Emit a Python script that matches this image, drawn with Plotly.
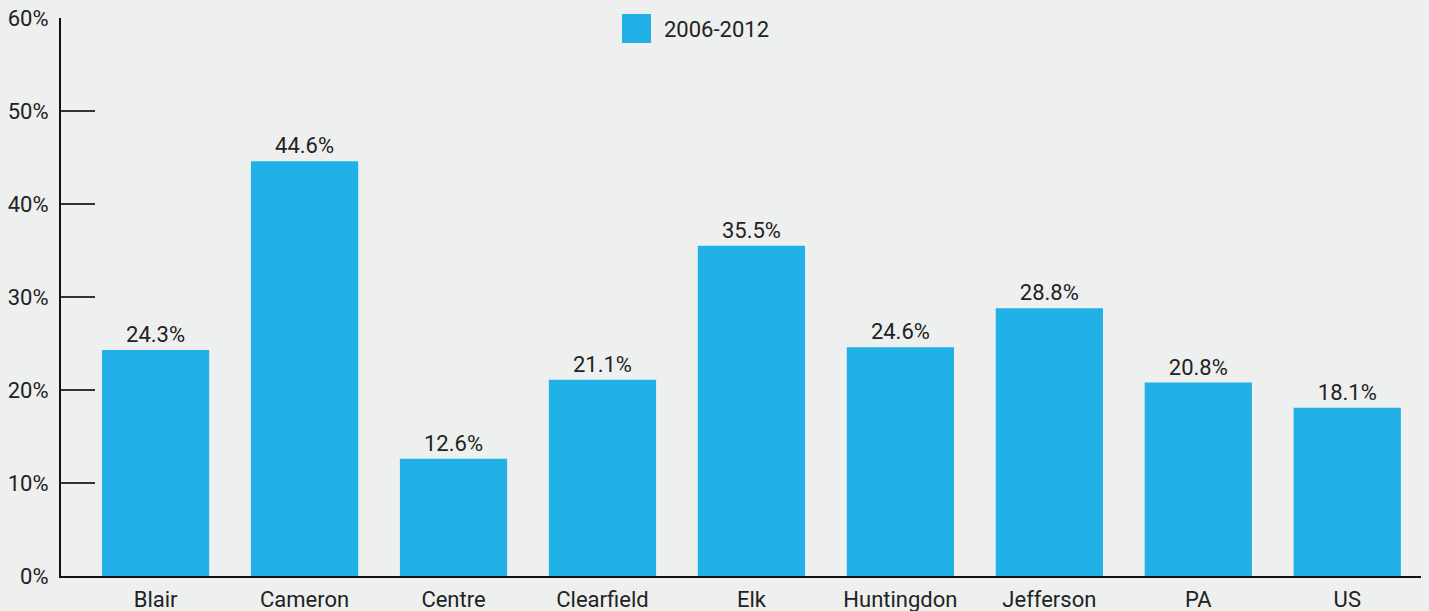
import plotly.graph_objects as go

categories = ["Blair", "Cameron", "Centre", "Clearfield", "Elk", "Huntingdon", "Jefferson", "PA", "US"]
values = [24.3, 44.6, 12.6, 21.1, 35.5, 24.6, 28.8, 20.8, 18.1]
series_name = "2006-2012"
y_ticks = [0, 10, 20, 30, 40, 50, 60]

BAR = "#22b1e6"
BG = "#eef0ef"
FONT = "Roboto"
FS = 22

fig = go.Figure()
fig.add_trace(go.Bar(
    x=categories, y=values, name=series_name,
    marker=dict(color=BAR, line=dict(width=0)),
    width=0.72,
    texttemplate="%{y:.1f}%", textposition="outside",
    textfont=dict(family=FONT, size=FS, color="#222222"),
    cliponaxis=False,
))

fig.update_layout(
    width=1429, height=611,
    paper_bgcolor=BG, plot_bgcolor=BG,
    margin=dict(l=61, r=8, t=18, b=35),
    showlegend=False,
    font=dict(family=FONT, size=FS, color="#222222"),
    xaxis=dict(
        range=[-0.635, 8.495], showgrid=False, showline=True, linecolor="#111111", linewidth=2,
        ticks="", zeroline=False, tickfont=dict(size=FS), automargin=False,
        ticklabelstandoff=3,
    ),
    yaxis=dict(
        range=[0, 60], tickvals=y_ticks, ticktext=[f"{v}%" for v in y_ticks],
        showgrid=False, zeroline=False, showline=True, linecolor="#111111", linewidth=2,
        ticks="inside", ticklen=34, tickwidth=1.5, tickcolor="#333333",
        tickfont=dict(size=FS), automargin=False, ticklabelstandoff=6,
    ),
)

# legend drawn as a square swatch + label
fig.add_shape(type="rect", xref="paper", yref="paper",
              x0=(622 - 61) / 1360, x1=(651 - 61) / 1360,
              y0=(576 - 43) / 558, y1=(576 - 14) / 558,
              fillcolor=BAR, line=dict(width=0))
fig.add_annotation(xref="paper", yref="paper", x=(662 - 61) / 1360, y=(576 - 29) / 558,
                   text=series_name, showarrow=False, xanchor="left", yanchor="middle",
                   font=dict(family=FONT, size=FS, color="#222222"))

fig.write_html("out.html", config={"displayModeBar": False},
               post_script="document.body.style.margin='0';document.body.style.background='#eef0ef';")
